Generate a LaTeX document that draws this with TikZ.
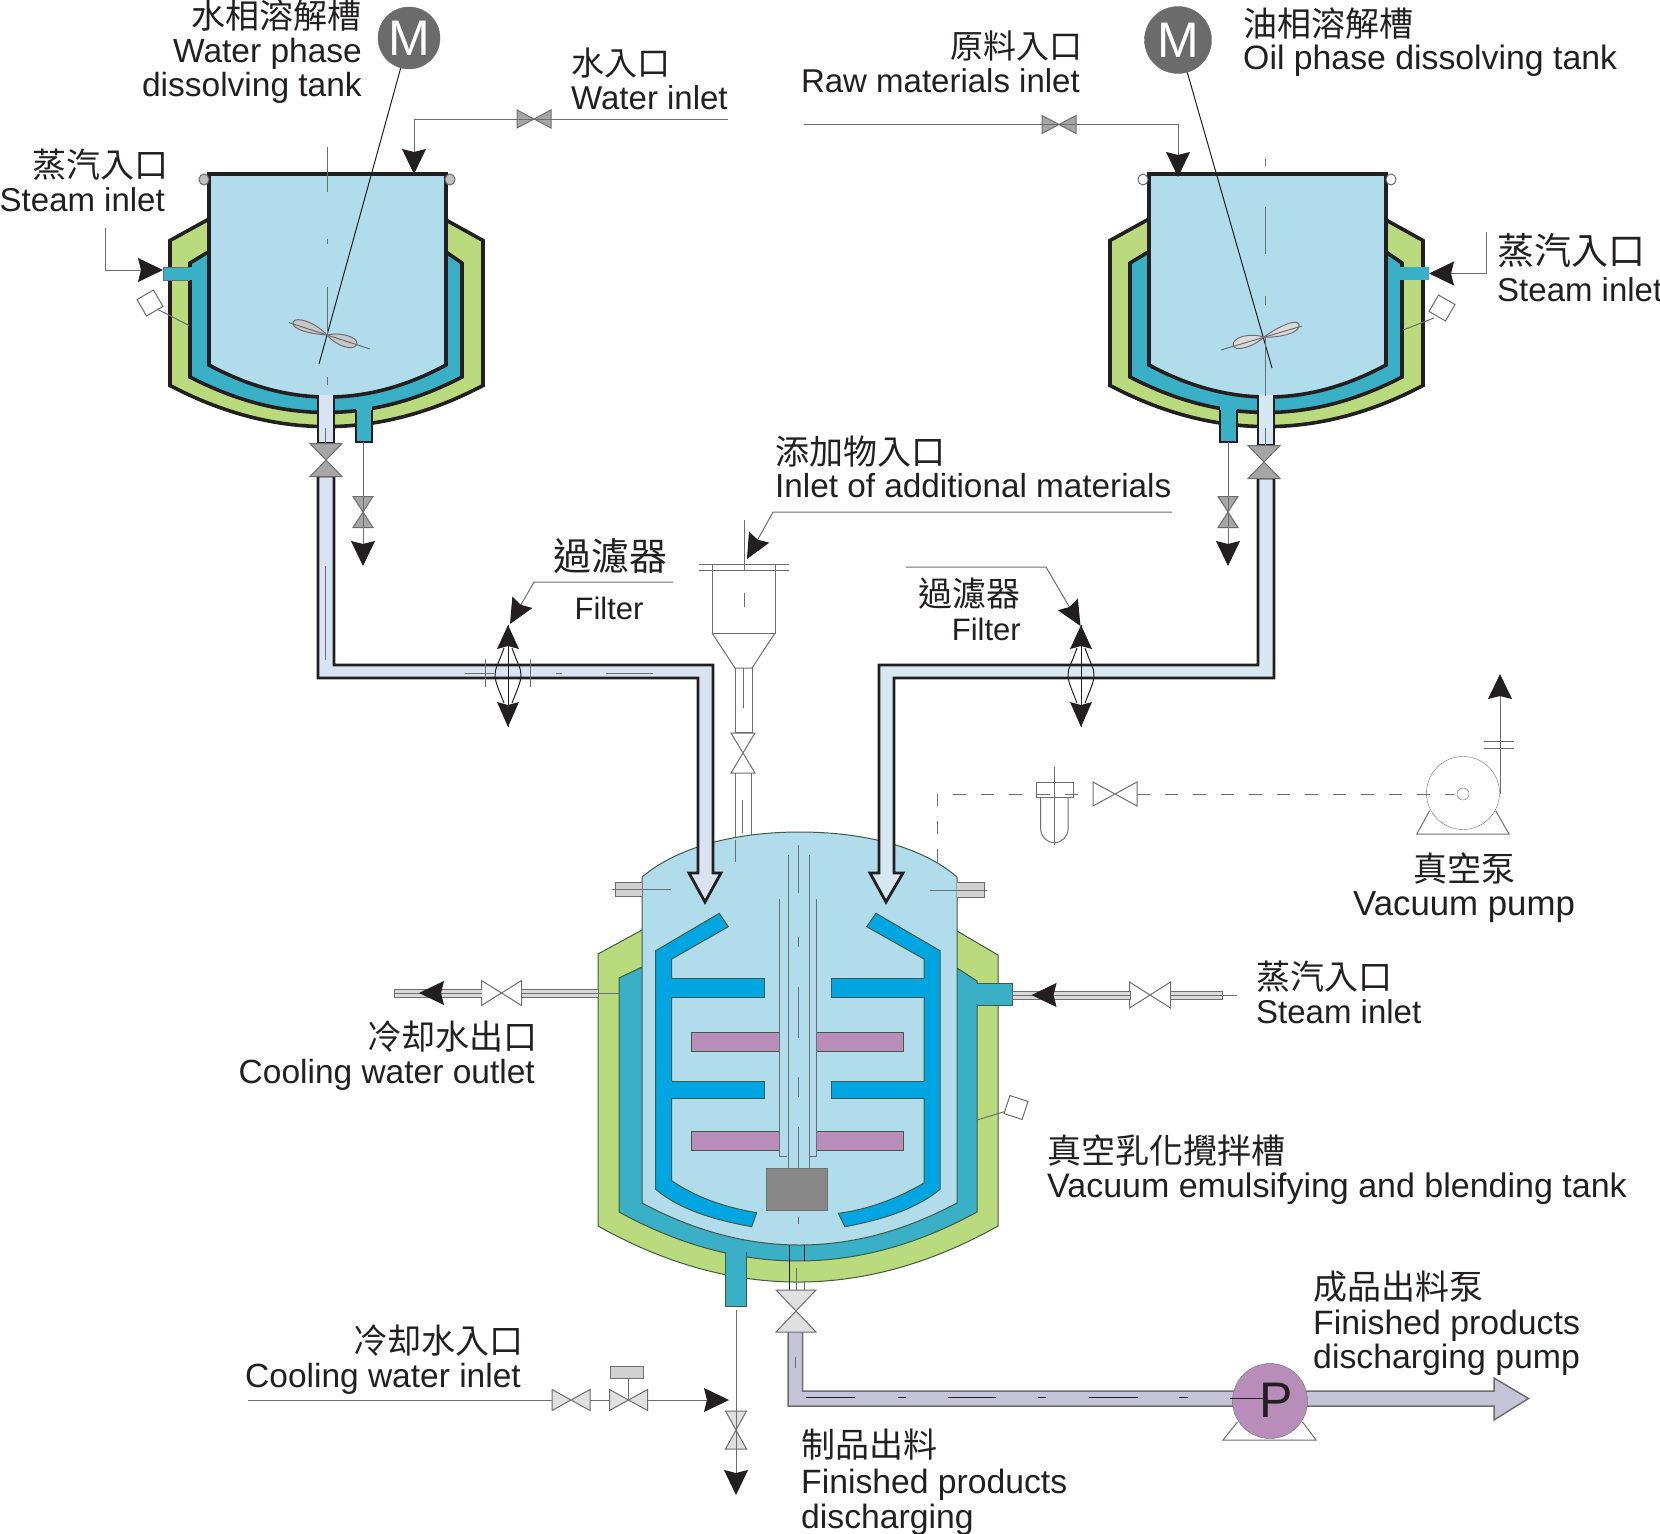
\documentclass[tikz,border=0pt]{standalone}
\usepackage{fontspec}
\setmainfont{Liberation Sans}
\newfontfamily\cjk{Noto Sans CJK TC}
\usetikzlibrary{arrows.meta, positioning, calc}
\definecolor{mTank}{HTML}{B1DCEB}
\definecolor{mTeal}{HTML}{39B0C5}
\definecolor{mGreen}{HTML}{B9DB7D}
\definecolor{mBlade}{HTML}{00A6E2}
\definecolor{mPurple}{HTML}{B98DB9}
\definecolor{mPipeL}{HTML}{D9E4F3}
\definecolor{mPipeR}{HTML}{D6E8F1}
\definecolor{mProduct}{HTML}{C6C4D9}
\definecolor{mInk}{HTML}{231F20}
\definecolor{mLine}{HTML}{6E6E6E}
\definecolor{mEdge}{HTML}{3F5A45}
\newcommand{\zh}[2][34]{{\cjk\fontsize{#1}{34}\selectfont #2}}
\tikzset{
  lbl/.style={inner sep=0pt, text=mInk, font=\fontsize{33.5}{34}\selectfont},
  wall/.style={draw=mInk, line width=3.6pt, line join=miter},
  pipewall/.style={draw=mInk, line width=2.8pt, line join=miter},
  edge/.style={draw=mEdge, line width=1pt},
  thin/.style={draw=mLine, line width=1pt},
  flow/.style={draw=mLine, line width=1pt, -{Stealth[length=25pt, width=24pt, inset=3pt, color=mInk]}},
  lead/.style={draw=mLine, line width=1pt, -{Stealth[length=25pt, width=23pt, inset=3pt, color=mInk]}},
  valve/.style={draw=mLine, line width=1pt, line join=miter},
  motor/.style={circle, draw=mLine, fill=black!58, text=white, minimum size=62pt, inner sep=0pt, font=\fontsize{50}{50}\selectfont}
}
\begin{document}
\begin{tikzpicture}[x=1pt, y=-1pt]
    \useasboundingbox (0,0) rectangle (1660,1534);

    % upper tanks
    \foreach \dx in {0,940} {
      \begin{scope}[xshift=\dx]
        \draw[wall, fill=mGreen] (209,219) -- (170,240.5) -- (170,385.5) .. controls (274,440.3) and (379,440.3) .. (483,385.5) -- (483,240.5) -- (446,220) -- cycle;
        \draw[wall, fill=mTeal] (209,251.5) -- (190,263) -- (190,377) .. controls (281,424.3) and (371,424.3) .. (462,377) -- (462,263) -- (446,252) -- cycle;
        \draw[wall, fill=mTank] (209,174) -- (209,365) .. controls (288,407.7) and (367,407.7) .. (446,365) -- (446,174) -- cycle;
      \end{scope}
    }
    \foreach \rx/\fc in {204/black!25, 450/black!25, 1143/white, 1391/white} {
      \draw[thin, fill=\fc] (\rx,179.5) ellipse (5 and 5.5);
    }

    % steam stubs and drain stubs
    \fill[mTeal] (163,267) rectangle (193,280);
    \draw[draw=mLine] (163,267) -- (190,267) (163,280) -- (190,280) (163,267) -- (163,280);
    \fill[mTeal] (1400,267) rectangle (1429,280);
    \foreach \xa/\xb in {356/372, 1220/1237} {
      \fill[mTeal] (\xa,402) rectangle (\xb,442);
      \draw[draw=mInk, line width=2pt] (\xa,410) -- (\xa,442) -- (\xb,442) -- (\xb,410);
    }

    % tank outlets
    \draw[pipewall, fill=mPipeL] (318,395) -- (318,443) -- (334,443) -- (334,395);
    \draw[pipewall, fill=mPipeR] (1258,395) -- (1258,445) -- (1274,445) -- (1274,395);

    % motors and agitators
    \node[motor] (motorA) at (409,38) {M};
    \node[motor, minimum size=67pt] (motorB) at (1178,40) {M};
    \coordinate (shaftA) at (319,364);
    \coordinate (shaftB) at (1272,368);
    \draw[thin, draw=mInk] (motorA) -- (shaftA);
    \draw[thin, draw=mInk] (motorB) -- (shaftB);
    \draw[thin, fill=black!22] (327,335) .. controls (315,322) and (296,316) .. (293,322) .. controls (291,330) and (312,334) .. (327,335) .. controls (338,332) and (358,336) .. (357,344) .. controls (354,352) and (336,346) .. (327,335) -- cycle;
    \draw[thin, fill=black!14] (1264,337) .. controls (1252,333) and (1233,336) .. (1233,345) .. controls (1234,352) and (1252,348) .. (1264,337) .. controls (1276,328) and (1296,318) .. (1299,324) .. controls (1302,333) and (1278,338) .. (1264,337) -- cycle;
    \draw[thin] (289,322.6) -- (370,349);
    \draw[thin] (1221,350) -- (1302,326);
    \foreach \ya/\yb in {146.5/191.6, 238.6/244, 287/335, 377/385} {
      \draw[thin] (327,\ya) -- (327,\yb);
    }
    \foreach \ya/\yb in {159/166, 207/254, 296/305, 337/396} {
      \draw[thin] (1265.5,\ya) -- (1265.5,\yb);
    }
    \draw[thin] (325,443) -- (325,428) (1265,445) -- (1265,428);

    % additive hopper
    \coordinate (hopA) at (744,520);
    \coordinate (hopB) at (744,570);
    \draw[thin] (hopA) -- (hopB);
    \draw[thin] (699,564) -- (789,564) (699,570) -- (789,570);
    \draw[thin] (712,564) -- (712,633) -- (775,633) -- (775,564);
    \draw[thin] (712,633) -- (735,668) -- (752,668) -- (775,633);
    \draw[thin] (735,668) -- (735,732) -- (752,732) -- (752,668);
    \draw[thin] (735,773) -- (735,845) (751,773) -- (751,845);
    \draw[thin] (744,593) -- (744,607);
    \draw[thin] (743,668) -- (743,708);
    \draw[thin] (742,800) -- (742,833);

    % main vessel
    \draw[edge, fill=mGreen] (642,930) -- (598,954) -- (598,1226) .. controls (731,1300.7) and (865,1300.7) .. (998,1226) -- (998,955) -- (957,931) -- cycle;
    \draw[edge, fill=mTeal] (642,967) -- (619,978) -- (619,1212) .. controls (738,1277.3) and (858,1277.3) .. (977,1212) -- (977,981) -- (957,968) -- cycle;
    \draw[edge, fill=mTeal] (725.5,1252) -- (725.5,1306) -- (746.5,1306) -- (746.5,1252);
    \fill[mTeal] (726,1248) rectangle (746,1300);
    \draw[edge, fill=mTeal] (977,983) -- (1012.5,983) -- (1012.5,1005) -- (977,1005);
    \fill[mTeal] (970,984) rectangle (1012,1004);
    \draw[edge, fill=mTank] (642,877) .. controls (680,845) and (740,832) .. (799.5,832) .. controls (860,832) and (920,845) .. (957,877) -- (957,1203) .. controls (852,1259) and (747,1259) .. (642,1203) -- cycle;
    \draw[thin] (735,840) -- (735,862);

    % nozzles
    \draw[thin, fill=black!18] (642,882) -- (615,882) -- (615,896.5) -- (642,896.5);
    \draw[thin, fill=black!18] (957,882.5) -- (984,882.5) -- (984,897.5) -- (957,897.5);
    \draw[thin] (612,889) -- (671,889);
    \draw[thin] (930,890) -- (987,890);

    % level gauges
    \foreach \gx/\gy/\ga/\lx/\ly/\wx/\wy in {150/303/-30/157/309/189/325.5, 1442/308/30/1434/318/1403/330, 1016/1107.5/18/1005/1111.5/977/1120} {
      \draw[thin, fill=white, rotate around={-\ga:(\gx,\gy)}] (\gx-9.5,\gy-9.5) rectangle (\gx+9.5,\gy+9.5);
      \draw[thin] (\lx,\ly) -- (\wx,\wy);
    }

    % scraper frames
    \draw[edge, fill=mBlade] (719.3,913.3) -- (728.3,926.7) -- (671.7,959) -- (671.7,1180.7) .. controls (700,1200) and (730,1208) .. (756.7,1212.7) -- (751.7,1226.7) .. controls (715,1220) and (680,1210) .. (655.7,1189.3) -- (655.7,950.7) -- cycle;
    \draw[edge, fill=mBlade] (876,913.3) -- (866.7,926.7) -- (924,959) -- (924,1183) .. controls (895,1200) and (865,1210) .. (838.3,1213.3) -- (845,1226.7) .. controls (880,1220) and (915,1210) .. (940,1189.3) -- (940,950.7) -- cycle;
    \foreach \ya/\yb in {978.3/997, 1081/1098.3} {
      \fill[mBlade] (670,\ya) rectangle (764.3,\yb);
      \draw[edge] (671.7,\ya) -- (764.3,\ya) -- (764.3,\yb) -- (671.7,\yb);
      \fill[mBlade] (831,\ya) rectangle (925,\yb);
      \draw[edge] (924,\ya) -- (831,\ya) -- (831,\yb) -- (924,\yb);
    }
    \foreach \ya/\yb in {1032.3/1051.3, 1131/1150} {
      \draw[edge, fill=mPurple] (691.3,\ya) rectangle (779.3,\yb);
      \draw[edge, fill=mPurple] (816,\ya) rectangle (903.7,\yb);
    }

    % shaft
    \draw[thin] (779.3,899.3) -- (779.3,1156.7) -- (786.7,1156.7);
    \draw[thin] (816.7,899.3) -- (816.7,1156.7) -- (809,1156.7);
    \draw[thin] (788.3,855) -- (788.3,1168);
    \draw[thin] (809,855) -- (809,1168);
    \foreach \ya/\yb in {845/893, 936.7/946.7, 986.7/1038, 1077/1096.7, 1126.7/1168, 1216.7/1224} {
      \draw[thin] (798,\ya) -- (798,\yb);
    }
    \draw[draw=black!55, fill=black!47, line width=1pt] (766.7,1168.3) rectangle (827.3,1210);

    % transfer pipes
    \draw[pipewall, fill=mPipeL] (318,476) -- (318,678) -- (698,678) -- (698,873) -- (689,873) -- (705,902) -- (721,873) -- (713,873) -- (713,665) -- (334,665) -- (334,476) -- cycle;
    \draw[pipewall, fill=mPipeR] (1258,478) -- (1258,665) -- (879,665) -- (879,873) -- (870,873) -- (886,902) -- (903,873) -- (894,873) -- (894,678) -- (1274,678) -- (1274,478) -- cycle;
    \foreach \xa/\xb in {465/494, 556/562, 606/653} {
      \draw[thin] (\xa,673) -- (\xb,673);
    }
    \draw[thin] (325,566) -- (325,660);

    % bottom outlet
    \draw[thin, draw=mInk] (789.3,1245) -- (789.3,1290);
    \draw[thin, draw=mInk] (804.3,1245) -- (804.3,1261);
    \draw[thin] (804.3,1282) -- (804.3,1290);
    \draw[thin] (796,1268) -- (796,1290);

    % product line
    \draw[draw=mLine, line width=1.5pt, fill=mProduct, line join=miter] (788,1332) -- (788,1406) -- (1494,1406) -- (1494,1420) -- (1528.5,1398.5) -- (1494,1378) -- (1494,1391) -- (802.5,1391) -- (802.5,1332);
    \foreach \xa/\xb in {806/855, 898/906, 948/996, 1038/1046, 1089/1138, 1179/1188} {
      \draw[thin, draw=mInk] (\xa,1397) -- (\xb,1397);
    }
    \draw[thin] (795,1357) -- (795,1368);

    % product pump
    \draw[thin] (1237.5,1422) -- (1223,1440) -- (1316,1440) -- (1302.5,1422);
    \node[circle, draw=mLine, fill=mPurple, minimum size=75pt, inner sep=0pt, text=mInk, font=\fontsize{50}{50}\selectfont] (pumpP) at (1270,1401) {};
    \node[inner sep=0pt, text=mInk, font=\fontsize{50}{50}\selectfont] (pumpT) at (1276,1400) {P};
    \draw[thin, draw=mInk] (1230,1398) -- (1268,1398);

    % horizontal valves
    \foreach \vx/\vy/\vw/\vh/\fc in {534/119/17/9/black!35, 1059/124.5/17/9/black!35, 501.5/993/20/12.5/white, 1150/995/20.5/13/white, 1115/794/22/12/white, 571/1400/19/10.5/black!12, 628.5/1400/19/10.5/black!12} {
      \draw[valve, fill=\fc] (\vx-\vw,\vy-\vh) -- (\vx+\vw,\vy+\vh) -- (\vx+\vw,\vy-\vh) -- (\vx-\vw,\vy+\vh) -- cycle;
    }
    % vertical valves
    \foreach \vx/\vy/\vw/\vh/\fc in {326/460/16/16.5/black!35, 1264/462/16/16.5/black!35, 363/512/10/15.5/black!35, 1228/512/10/15.5/black!35, 743/753/12/20/white, 796/1311/20/21/black!12, 736/1430/10.5/19/black!12} {
      \draw[valve, fill=\fc] (\vx-\vw,\vy-\vh) -- (\vx+\vw,\vy+\vh) -- (\vx-\vw,\vy+\vh) -- (\vx+\vw,\vy-\vh) -- cycle;
    }
    \draw[thin, fill=black!18] (610.7,1366.7) rectangle (643.5,1378);
    \draw[thin] (628.5,1378) -- (628.5,1400);

    % cooling and steam pipes on main vessel
    \draw[thin, fill=black!15] (481.5,989) -- (394,989) -- (394,997) -- (481.5,997);
    \draw[thin, fill=black!15] (521.5,989) -- (598,989) -- (598,997) -- (521.5,997);
    \draw[thin] (394,993) -- (481.5,993) (521.5,993) -- (619,993);
    \draw[thin, fill=black!15] (1012.5,991) -- (1130,991) -- (1130,999) -- (1012.5,999) -- cycle;
    \draw[thin, fill=black!15] (1170.5,991) -- (1222.5,991) -- (1222.5,999) -- (1170.5,999) -- cycle;
    \draw[thin] (1012.5,995) -- (1130,995) (1170.5,995) -- (1237,995);

    % filters
    \foreach \fx in {508,1081} {
      \draw[thin, draw=mInk] (\fx,625) -- (\fx,727);
      \draw[thin, draw=mInk] (\fx-4,648) .. controls (\fx-10,665) and (\fx-13,668) .. (\fx-13,675) .. controls (\fx-13,682) and (\fx-9,690) .. (\fx-4,703);
      \draw[thin, draw=mInk] (\fx+4,648) .. controls (\fx+10,665) and (\fx+13,668) .. (\fx+13,675) .. controls (\fx+13,682) and (\fx+9,690) .. (\fx+4,703);
      \fill[mInk] (\fx,625) -- (\fx-11,649) -- (\fx,646) -- (\fx+11,649) -- cycle;
      \fill[mInk] (\fx,727) -- (\fx-11,702) -- (\fx,705) -- (\fx+11,702) -- cycle;
    }
    \draw[thin] (485.5,659) -- (485.5,687) (530,659) -- (530,687);

    % feed and leader arrows
    \coordinate (waterS) at (728,119);
    \coordinate (waterT) at (414,174);
    \coordinate (rawS) at (804,124.5);
    \coordinate (rawT) at (1178,177);
    \draw[flow] (waterS) -| (waterT);
    \draw[flow] (rawS) -| (rawT);
    \coordinate (steamAS) at (105,227.5);
    \coordinate (steamAT) at (163,270);
    \coordinate (steamBS) at (1486,232);
    \coordinate (steamBT) at (1429,273.5);
    \draw[flow] (steamAS) |- (steamAT);
    \draw[flow] (steamBS) |- (steamBT);
    \coordinate (drainA) at (363,442);
    \coordinate (drainAT) at (363,566);
    \coordinate (drainB) at (1228,442);
    \coordinate (drainBT) at (1228,566);
    \draw[flow] (drainA) -- (drainAT);
    \draw[flow] (drainB) -- (drainBT);
    \draw[lead] (673,582) -- (534,582) -- (510,624);
    \draw[lead] (906,567) -- (1046,567) -- (1080.5,626);
    \draw[lead] (1172,512) -- (773,512) -- (747,559);
    \coordinate (coolOS) at (470,993);
    \coordinate (coolOT) at (419,993);
    \draw[flow] (coolOS) -- (coolOT);
    \coordinate (steamCS) at (1100,995);
    \coordinate (steamCT) at (1031.5,995);
    \draw[flow] (steamCS) -- (steamCT);
    \coordinate (coolIS) at (248,1400);
    \coordinate (coolIT) at (729,1400);
    \draw[flow] (coolIS) -- (552,1400) (590,1400) -- (609.5,1400) (647.5,1400) -- (coolIT);
    \coordinate (coolDS) at (736,1310);
    \coordinate (coolDT) at (736,1495);
    \draw[flow] (coolDS) -- (coolDT);

    % vacuum line
    \draw[thin, dash pattern=on 13pt off 15pt] (937,862) -- (937,794) -- (1093,794);
    \draw[thin, dash pattern=on 13pt off 15pt] (1137,794) -- (1453.5,794);
    \draw[thin] (1036.5,782) rectangle (1073,797);
    \draw[thin] (1040.7,797) -- (1040.7,829) arc (180:0:13.65) -- (1068,797);
    \draw[thin] (1054.5,766.7) -- (1054.5,845);
    \draw[thin] (1429.6,810.7) -- (1416.8,834) -- (1509,834) -- (1495.7,810.7);
    \node[circle, draw=mLine, minimum size=73pt, inner sep=0pt] (pumpV) at (1463,793) {};
    \node[circle, draw=mLine, minimum size=12pt, inner sep=0pt] (pumpC) at (1463,794) {};
    \coordinate (ventS) at (1500,794);
    \coordinate (ventT) at (1500,674);
    \draw[flow] (ventS) -- (ventT);
    \draw[thin] (1484,741) -- (1514,741) (1484,748.7) -- (1514,748.7);

    % labels
    \node[lbl, align=right, anchor=north east] (lblWaterTank) at (362,0) {\zh{水相溶解槽}\\Water phase\\dissolving tank};
    \node[lbl, align=left, anchor=north west, font=\fontsize{33}{34}\selectfont] (lblWater) at (571,48) {\zh[33]{水入口}\\Water inlet};
    \node[lbl, align=right, anchor=north east, font=\fontsize{33}{34}\selectfont] (lblRaw) at (1080,31) {\zh[33]{原料入口}\hspace*{-3pt}\\Raw materials inlet};
    \node[lbl, align=left, anchor=north west, font=\fontsize{33.8}{33}\selectfont] (lblOilTank) at (1243,8) {\zh{油相溶解槽}\\Oil phase dissolving tank};
    \node[lbl, align=right, anchor=north east, font=\fontsize{33}{34}\selectfont] (lblSteamA) at (165,149) {\zh{蒸汽入口}\hspace*{-4pt}\\Steam inlet};
    \node[lbl, align=left, anchor=north west, font=\fontsize{33}{37}\selectfont] (lblSteamB) at (1497,233) {\zh[37]{蒸汽入口}\\Steam inlet};
    \node[lbl, align=left, anchor=north west, font=\fontsize{33.3}{33}\selectfont] (lblAdd) at (775,436) {\zh{添加物入口}\\Inlet of additional materials};
    \node[lbl, anchor=center] (lblFilterZhA) at (610,556) {\zh[38]{過濾器}};
    \node[lbl, anchor=center, font=\fontsize{31}{34}\selectfont] (lblFilterA) at (609,608) {Filter};
    \node[lbl, align=right, anchor=north east, font=\fontsize{31}{34}\selectfont] (lblFilterB) at (1021,578) {\zh{過濾器}\\Filter};
    \node[lbl, align=center, anchor=north, font=\fontsize{34.8}{34}\selectfont] (lblVacuum) at (1464,853) {\zh{真空泵}\\Vacuum pump};
    \node[lbl, align=left, anchor=north west, font=\fontsize{33}{34}\selectfont] (lblSteamC) at (1256,961) {\zh{蒸汽入口}\\Steam inlet};
    \node[lbl, align=right, anchor=north east] (lblCoolOut) at (535,1021) {\zh{冷却水出口}\hspace*{-3pt}\\Cooling water outlet};
    \node[lbl, align=left, anchor=north west, font=\fontsize{34}{34}\selectfont] (lblVessel) at (1047,1135) {\zh{真空乳化攪拌槽}\\Vacuum emulsifying and blending tank};
    \node[lbl, align=left, anchor=north west, font=\fontsize{33.8}{34.5}\selectfont] (lblPump) at (1313,1271) {\zh{成品出料泵}\\Finished products\\discharging pump};
    \node[lbl, align=right, anchor=north east] (lblCoolIn) at (521,1325) {\zh{冷却水入口}\hspace*{-3pt}\\Cooling water inlet};
    \node[lbl, align=left, anchor=north west, font=\fontsize{33.7}{35.5}\selectfont] (lblProduct) at (801,1429) {\zh{制品出料}\\Finished products\\discharging};
  \end{tikzpicture}
\end{document}
